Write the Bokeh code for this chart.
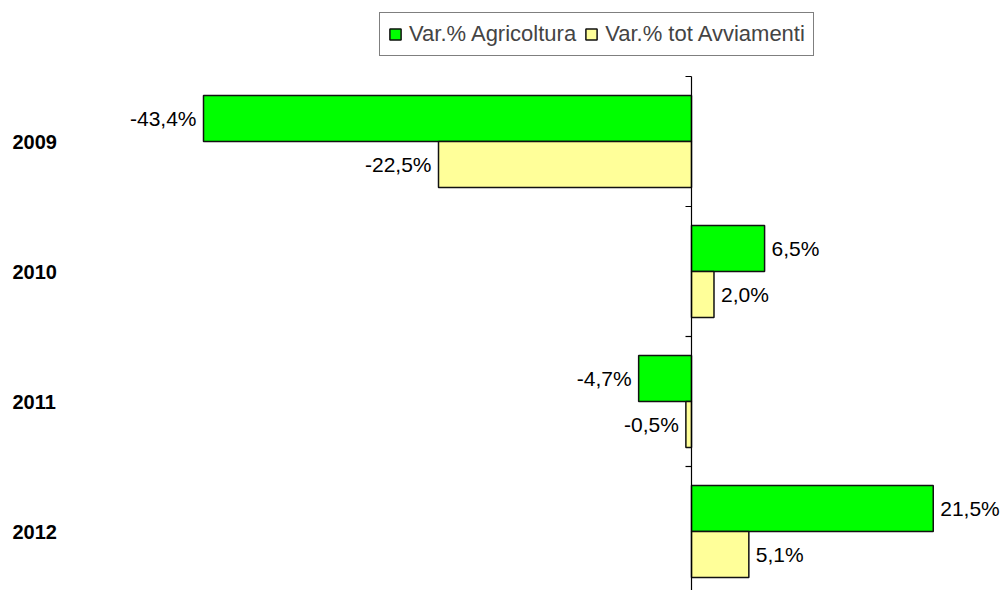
from bokeh.plotting import figure
from bokeh.models import Range1d, ColumnDataSource, Legend, LegendItem
from bokeh.core.properties import value
from bokeh.embed import file_html
from bokeh.resources import INLINE

years = ["2009", "2010", "2011", "2012"]
agricoltura = [-43.4, 6.5, -4.7, 21.5]
totale = [-22.5, 2.0, -0.5, 5.1]
series_names = ["Var.% Agricoltura", "Var.% tot Avviamenti"]
colors = ["#00FF00", "#FFFF99"]

W, H = 1005, 590
zero_px = 691              # zero line in figure px
px_per_unit = 488 / 43.4   # horizontal scale
band_px = 130
top_band_px = 76

x0 = -zero_px / px_per_unit
x1 = (W - zero_px) / px_per_unit
y_top = -top_band_px / band_px
y_bot = (H - top_band_px) / band_px

p = figure(width=W, height=H, output_backend="svg", toolbar_location=None,
           x_range=Range1d(x0, x1), y_range=Range1d(y_bot, y_top),
           x_axis_location=None, y_axis_location=None, min_border=0)
p.grid.visible = False
p.outline_line_color = None
p.background_fill_color = "white"
p.border_fill_color = "white"

n = len(years)
off = 0.177
hh = 0.354
fmt = lambda v: f"{v:.1f}%".replace(".", ",")

rends = []
for k, (vals, col) in enumerate(zip([agricoltura, totale], colors)):
    ys = [i + 0.5 + (off if k else -off) for i in range(n)]
    src = ColumnDataSource(dict(
        y=ys, right=vals, left=[0] * n,
        lab=[fmt(v) for v in vals],
        align=["left" if v >= 0 else "right" for v in vals],
        xo=[7 if v >= 0 else -7 for v in vals]))
    r = p.hbar(y="y", left="left", right="right", height=hh, source=src,
               fill_color=col, line_color="#111111", line_width=1.5)
    rends.append(r)
    p.text(x="right", y="y", text="lab", source=src, text_align="align",
           x_offset="xo", text_baseline="middle",
           text_font=value("Liberation Sans"), text_font_size="21px",
           text_color="black")

# vertical axis with ticks at category boundaries
p.segment(x0=[0], y0=[0], x1=[0], y1=[n], line_color="black", line_width=1.2)
tick = 6 / px_per_unit
p.segment(x0=[-tick] * (n + 1), y0=list(range(n + 1)), x1=[0] * (n + 1),
          y1=list(range(n + 1)), line_color="black", line_width=1.2)

# category labels at the far left
p.text(x=[x0 + 12 / px_per_unit] * n, y=[i + 0.5 for i in range(n)], text=years,
       text_align="left", text_baseline="middle",
       text_font=value("Liberation Sans"), text_font_style="bold",
       text_font_size="20px", text_color="black")

legend = Legend(items=[LegendItem(label=series_names[k], renderers=[rends[k]]) for k in range(2)],
                orientation="horizontal", location=(379, 534),
                label_text_font="Liberation Sans", label_text_font_size="22px",
                glyph_width=14, glyph_height=14, label_standoff=7, spacing=8,
                padding=8, margin=0, border_line_color="black", border_line_width=1,
                background_fill_alpha=1)
p.add_layout(legend)

open("out.html", "w").write(file_html(p, INLINE))
